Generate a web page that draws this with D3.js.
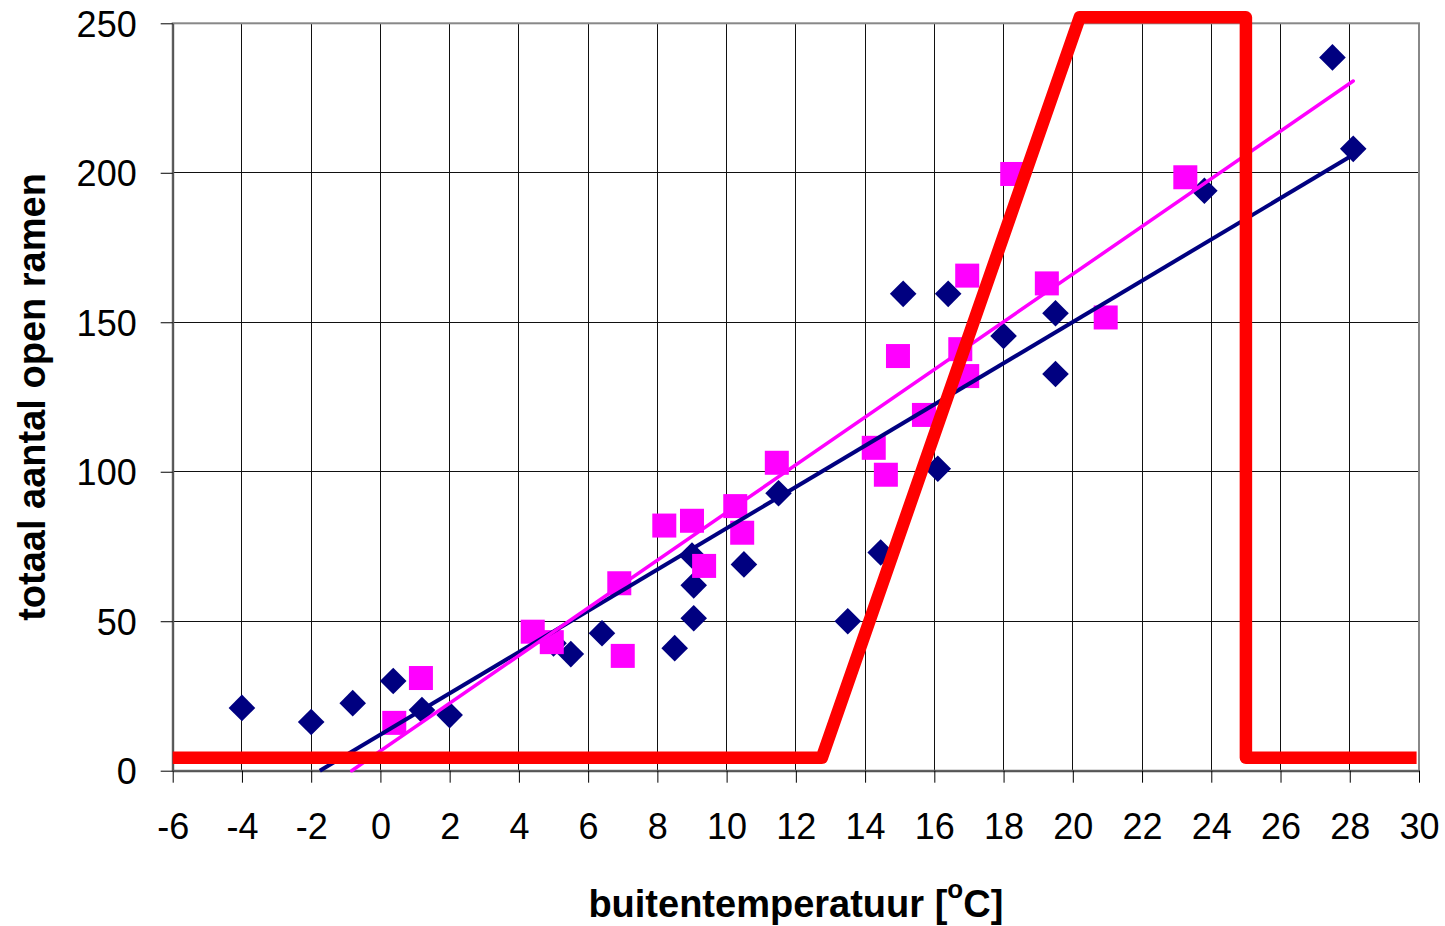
<!DOCTYPE html>
<html>
<head>
<meta charset="utf-8">
<script src="https://cdn.jsdelivr.net/npm/d3@7"></script>
<style>
  body { margin: 0; background: #fff; }
  svg { display: block; font-family: "Liberation Sans", Arial, sans-serif; }
</style>
</head>
<body>
<svg id="chart" width="1445" height="926"></svg>
<script>
var navyTemp  = [-4, -2, -0.8, 0.37, 1.2, 2, 5, 5.5, 6.4, 8.5, 9.05, 9.05, 9, 10.5, 11.5, 13.5, 14.45, 15.1, 16.4, 16.1, 18, 19.5, 19.5, 23.8, 27.5, 28.1];
var navyCount = [21, 16.3, 22.6, 30, 20.3, 18.6, 42.6, 39, 46, 41, 51, 62, 72, 69, 92.8, 50, 73, 159.5, 159.5, 101, 145.4, 153, 132.7, 194, 238.6, 208];

var pinkTemp  = [0.4, 1.17, 4.4, 4.95, 7, 6.9, 8.2, 9, 9.35, 10.25, 10.45, 11.45, 14.25, 14.6, 14.95, 15.7, 16.75, 16.95, 16.95, 18.25, 19.25, 20.95, 23.25];
var pinkCount = [16, 31, 46.5, 43, 38.4, 62.7, 82, 83.6, 68.5, 88.5, 79.6, 103, 108, 99, 138.7, 119, 141, 132, 165.6, 199.6, 163, 151.6, 198.5];

// trend lines (end points as drawn)
var navyTrendTemp = [-1.75, 28.1], navyTrendCount = [0, 206];
var pinkTrendTemp = [-0.83, 28.1], pinkTrendCount = [0, 230.7];

// red band line
var redTemp  = [-6, 12.75, 20.2, 25, 25, 29.93];
var redCount = [4.3, 4.3, 252, 252, 4.3, 4.3];

// axis ticks
var xTicks = [-6, -4, -2, 0, 2, 4, 6, 8, 10, 12, 14, 16, 18, 20, 22, 24, 26, 28, 30];
var yTicks = [0, 50, 100, 150, 200, 250];

var svg = d3.select("#chart"),
    plot = {left: 172.7, right: 1419, top: 23.3, bottom: 770.7};

var x = d3.scaleLinear().domain([-6, 30]).range([plot.left, plot.right]);
var y = d3.scaleLinear().domain([0, 250]).range([plot.bottom, plot.top]);

function zip(a, b) { return a.map(function(v, i) { return [v, b[i]]; }); }

// grid
var grid = svg.append("g").attr("shape-rendering", "crispEdges");
grid.selectAll(".vgrid").data(xTicks.slice(1, -1)).enter().append("line")
    .attr("x1", function(d) { return x(d); }).attr("x2", function(d) { return x(d); })
    .attr("y1", plot.top).attr("y2", plot.bottom)
    .attr("stroke", "#111").attr("stroke-width", 1);
grid.selectAll(".hgrid").data(yTicks.slice(1, -1)).enter().append("line")
    .attr("x1", plot.left).attr("x2", plot.right)
    .attr("y1", function(d) { return y(d); }).attr("y2", function(d) { return y(d); })
    .attr("stroke", "#111").attr("stroke-width", 1);

// plot frame
svg.append("rect")
    .attr("x", plot.left).attr("y", plot.top)
    .attr("width", plot.right - plot.left).attr("height", plot.bottom - plot.top)
    .attr("fill", "none").attr("stroke", "#888").attr("stroke-width", 2);

// axes
var xAxis = d3.axisBottom(x).tickValues(xTicks).tickSizeInner(12).tickSizeOuter(0)
    .tickPadding(31).tickFormat(function(d) { return String(d); });
var yAxis = d3.axisLeft(y).tickValues(yTicks).tickSizeInner(12).tickSizeOuter(0)
    .tickPadding(24).tickFormat(function(d) { return String(d); });

var gx = svg.append("g").attr("transform", "translate(0," + plot.bottom + ")").call(xAxis);
var gy = svg.append("g").attr("transform", "translate(" + plot.left + ",0)").call(yAxis);

[gx, gy].forEach(function(g) {
  g.select(".domain").attr("stroke", "#555").attr("stroke-width", 2);
  g.selectAll(".tick line").attr("stroke", "#000").attr("stroke-width", 1);
  g.selectAll(".tick text")
      .attr("fill", "#000")
      .style("font-size", "36px")
      .style("font-family", "'Liberation Sans', Arial, sans-serif");
});
gy.selectAll(".tick text").attr("dy", "0.36em");

// markers: diamonds
var dia = 13.3;
svg.append("g").selectAll("path").data(zip(navyTemp, navyCount)).enter().append("path")
    .attr("d", function(d) {
      var cx = x(d[0]), cy = y(d[1]);
      return "M" + cx + "," + (cy - dia) + "L" + (cx + dia) + "," + cy +
             "L" + cx + "," + (cy + dia) + "L" + (cx - dia) + "," + cy + "Z";
    })
    .attr("fill", "#000080");

// markers: squares
var sq = 24;
svg.append("g").selectAll("rect").data(zip(pinkTemp, pinkCount)).enter().append("rect")
    .attr("x", function(d) { return x(d[0]) - sq / 2; })
    .attr("y", function(d) { return y(d[1]) - sq / 2; })
    .attr("width", sq).attr("height", sq)
    .attr("fill", "#ff00ff");

var line = d3.line().x(function(d) { return x(d[0]); }).y(function(d) { return y(d[1]); });

svg.append("path").datum(zip(navyTrendTemp, navyTrendCount))
    .attr("d", line).attr("fill", "none")
    .attr("stroke", "#000080").attr("stroke-width", 4);

svg.append("path").datum(zip(pinkTrendTemp, pinkTrendCount))
    .attr("d", line).attr("fill", "none")
    .attr("stroke", "#ff00ff").attr("stroke-width", 3.5).attr("stroke-linecap", "round");

svg.append("path").datum(zip(redTemp, redCount))
    .attr("d", line).attr("fill", "none")
    .attr("stroke", "#ff0000").attr("stroke-width", 12.5)
    .attr("stroke-linejoin", "round").attr("stroke-linecap", "butt");

// axis titles
var xt = svg.append("text")
    .attr("x", (plot.left + plot.right) / 2).attr("y", 917)
    .attr("text-anchor", "middle")
    .style("font-size", "38px").style("font-weight", "bold")
    .text("buitentemperatuur [");
xt.append("tspan").attr("dy", -19).style("font-size", "26px").text("o");
xt.append("tspan").attr("dy", 19).text("C]");

svg.append("text")
    .attr("transform", "translate(45," + (plot.top + plot.bottom) / 2 + ") rotate(-90)")
    .attr("text-anchor", "middle")
    .style("font-size", "38px").style("font-weight", "bold")
    .text("totaal aantal open ramen");
</script>
</body>
</html>
